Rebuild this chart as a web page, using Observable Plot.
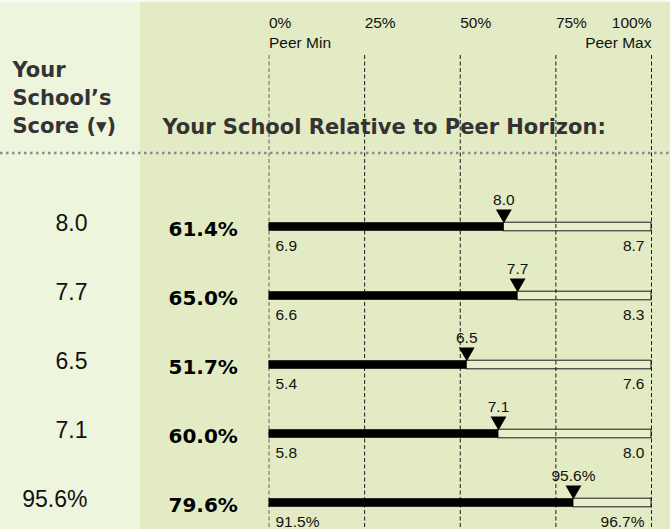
<!DOCTYPE html>
<html><head><meta charset="utf-8">
<script src="https://cdn.jsdelivr.net/npm/d3@7"></script>
<script src="https://cdn.jsdelivr.net/npm/@observablehq/plot@0.6"></script>
<style>
html,body{margin:0;padding:0;background:#fff;}
#chart{width:670px;height:529px;}
</style></head><body><div id="chart"></div>
<script>
// ---- data ----
const rows = [0, 1, 2, 3, 4];
const scores = ["8.0", "7.7", "6.5", "7.1", "95.6%"];
const percentiles = [61.4, 65.0, 51.7, 60.0, 79.6];
const peerMins = ["6.9", "6.6", "5.4", "5.8", "91.5%"];
const peerMaxs = ["8.7", "8.3", "7.6", "8.0", "96.7%"];
const tickValues = [0, 25, 50, 75, 100];
const tickLabels = ["0%", "25%", "50%", "75%", "100%"];
const endValues = [0, 100];
const endLabels = ["Peer Min", "Peer Max"];
const headerLeft = ["Your", "School\u2019s", "Score (\u25BE)"];
const headerRight = "Your School Relative to Peer Horizon:";

const table = rows.map(i => ({
  row: i, score: scores[i], pct: percentiles[i],
  pctLabel: percentiles[i].toFixed(1) + "%", min: peerMins[i], max: peerMaxs[i]
}));
const ticks = tickValues.map((v, i) => ({v, label: tickLabels[i]}));
const ends = endValues.map((v, i) => ({v, label: endLabels[i]}));

const sans = "'Liberation Sans', Arial, sans-serif";
const bold = "'DejaVu Sans', Verdana, sans-serif";

const triangleDown = {
  draw(context, size) {
    const y = Math.sqrt(size / (3 * Math.sqrt(3)));
    context.moveTo(0, 2 * y);
    context.lineTo(-Math.sqrt(3) * y, -y);
    context.lineTo(Math.sqrt(3) * y, -y);
    context.closePath();
  }
};

const background = (index, scales, values, dims) => {
  const g = d3.create("svg:g");
  g.append("rect").attr("x", 0).attr("y", 0).attr("width", 140).attr("height", dims.height).attr("fill", "#eef5dd");
  g.append("rect").attr("x", 140).attr("y", 0).attr("width", dims.width - 140).attr("height", dims.height).attr("fill", "#e2ebc3");
  g.append("rect").attr("x", 0).attr("y", 0).attr("width", dims.width).attr("height", 2).attr("fill", "#f7f9f2");
  return g.node();
};
const separator = (index, scales, values, dims) => {
  const g = d3.create("svg:g");
  g.append("line").attr("x1", 0).attr("x2", dims.width).attr("y1", 153).attr("y2", 153)
    .attr("stroke", "#8c8c8c").attr("stroke-width", 2.5).attr("stroke-dasharray", "2.5,3.5");
  return g.node();
};

const chart = Plot.plot({
  width: 670, height: 529,
  marginTop: 0, marginBottom: 0, marginLeft: 0, marginRight: 0,
  style: {background: "transparent", overflow: "visible"},
  x: {domain: [0, 100], range: [268.5, 651], axis: null},
  y: {type: "band", domain: rows, range: [190.6, 537.6], padding: 0, axis: null},
  marks: [
    background,
    separator,
    // light remainder bars
    Plot.barX(table, {y: "row", x1: "pct", x2: () => 100, fill: "#e8efcd", stroke: "#1a1a1a", strokeWidth: 1, insetTop: 30.2, insetBottom: 30.2}),
    // grid lines
    Plot.ruleX(tickValues, {x: d => d, insetTop: 55, stroke: d => d === 0 ? "#666" : "#1a1a1a", strokeDasharray: "4,2.5", strokeWidth: 1}),
    // filled bars
    Plot.barX(table, {y: "row", x1: () => 0, x2: "pct", fill: "#000", insetTop: 30.2, insetBottom: 30.2}),
    // markers
    Plot.dot(table, {y: "row", x: "pct", symbol: triangleDown, r: 5.9, fill: "#000", stroke: "none", dy: -13}),
    Plot.text(table, {y: "row", x: "pct", text: "score", dy: -22.5, lineAnchor: "bottom", fontSize: 15.5, fontFamily: sans, fill: "#111"}),
    // peer min / max
    Plot.text(table, {y: "row", x: () => 0, text: "min", textAnchor: "start", dx: 6.5, dy: 24, lineAnchor: "bottom", fontSize: 15.5, fontFamily: sans, fill: "#111"}),
    Plot.text(table, {y: "row", x: () => 100, text: "max", textAnchor: "end", dx: -7, dy: 24, lineAnchor: "bottom", fontSize: 15.5, fontFamily: sans, fill: "#111"}),
    // left columns
    Plot.text(table, {y: "row", frameAnchor: "left", text: "score", textAnchor: "end", dx: 87, dy: 4, lineAnchor: "bottom", fontSize: 23, fontFamily: sans, fill: "#111"}),
    Plot.text(table, {y: "row", frameAnchor: "left", text: "pctLabel", textAnchor: "start", dx: 168, dy: 9, lineAnchor: "bottom", fontSize: 20, fontWeight: "bold", fontFamily: bold, fill: "#000"}),
    // top tick labels
    Plot.text(ticks.filter(d => d.v < 100), {x: "v", frameAnchor: "top", text: "label", textAnchor: "start", dy: 27, lineAnchor: "bottom", fontSize: 15.5, fontFamily: sans, fill: "#111"}),
    Plot.text(ticks.filter(d => d.v === 100), {x: "v", frameAnchor: "top", text: "label", textAnchor: "end", dy: 27, lineAnchor: "bottom", fontSize: 15.5, fontFamily: sans, fill: "#111"}),
    Plot.text(ends.filter(d => d.v === 0), {x: "v", frameAnchor: "top", text: "label", textAnchor: "start", dy: 47, lineAnchor: "bottom", fontSize: 15.5, fontFamily: sans, fill: "#111"}),
    Plot.text(ends.filter(d => d.v === 100), {x: "v", frameAnchor: "top", text: "label", textAnchor: "end", dy: 47, lineAnchor: "bottom", fontSize: 15.5, fontFamily: sans, fill: "#111"}),
    // headers
    Plot.text([headerLeft.join("\n")], {frameAnchor: "top-left", text: d => d, textAnchor: "start", dx: 12, dy: 132, lineAnchor: "bottom", lineHeight: 1.333, fontSize: 21, fontWeight: "bold", fontFamily: bold, fill: "#333"}),
    Plot.text([headerRight], {frameAnchor: "top-left", text: d => d, textAnchor: "start", dx: 162, dy: 133, lineAnchor: "bottom", fontSize: 21, fontWeight: "bold", fontFamily: bold, fill: "#333"})
  ]
});
document.getElementById("chart").append(chart);
</script>
</body></html>
